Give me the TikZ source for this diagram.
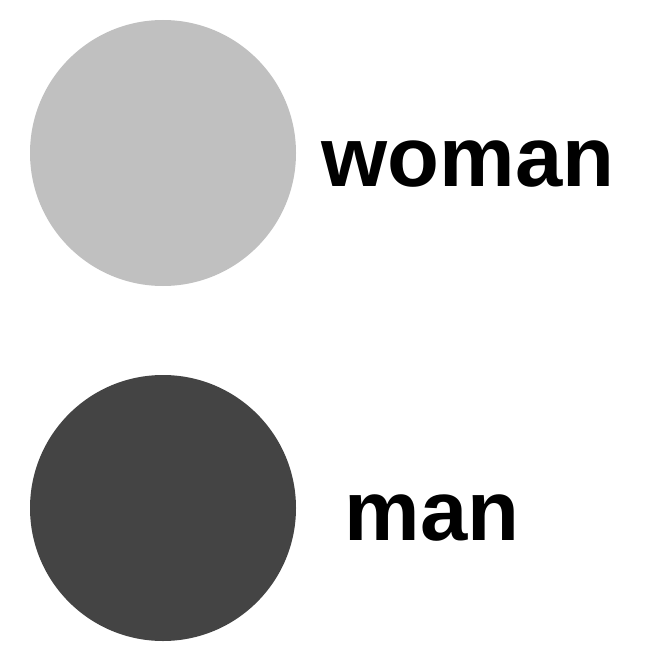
\documentclass[tikz,border=0pt]{standalone}
\usepackage{fontspec}
\setmainfont{Liberation Sans}
\definecolor{lightdot}{HTML}{C0C0C0}
\definecolor{darkdot}{HTML}{444444}
\begin{document}
\begin{tikzpicture}[x=1pt,y=-1pt,
  dot/.style={circle,minimum size=266pt,inner sep=0pt,draw=none},
  lbl/.style={inner sep=0pt,font=\fontsize{85}{90}\selectfont\bfseries}]
\useasboundingbox (0,0) rectangle (666,663);
\node[dot,fill=lightdot] (w) at (163,153) {};
\node[dot,fill=darkdot] (m) at (163,508) {};
\node[lbl] (wl) at (468,164) {woman};
\node[lbl] (ml) at (432,518) {man};
\end{tikzpicture}
\end{document}
